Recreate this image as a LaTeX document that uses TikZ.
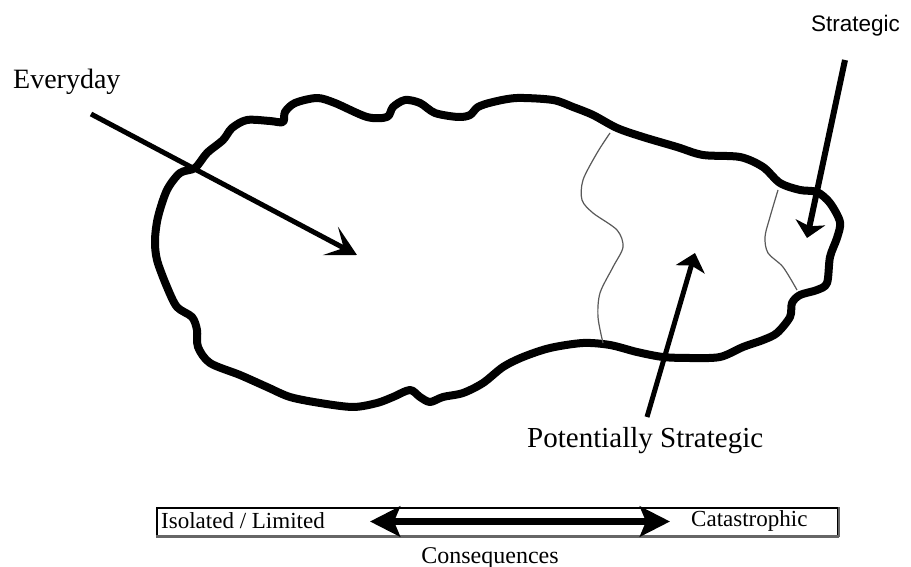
\documentclass[tikz,border=0pt]{standalone}
\usepackage{fontspec}
\setmainfont{Liberation Serif}
\newfontfamily\labelsans{Liberation Sans}
\usetikzlibrary{arrows.meta}

\begin{document}
\begin{tikzpicture}[x=1pt,y=-1pt,
  outline/.style={line width=8pt, line join=round},
  divider/.style={line width=1.2pt, draw=black!65, line join=round},
  pointer/.style={line width=5pt},
  biglabel/.style={font=\fontsize{28}{30}\selectfont, inner sep=0pt, anchor=base west},
  barlabel/.style={font=\fontsize{23}{25}\selectfont, inner sep=0pt, anchor=base west}
]
\useasboundingbox (0,0) rectangle (911,567);
\fill[white] (0,0) rectangle (911,567);

% irregular region
\draw[outline] plot[smooth cycle, tension=0.5] coordinates {
  (195,168) (207,153) (223,140) (232,128) (247,120) (270,121) (283,122)
  (285,112) (295,103) (317,98) (335,103) (367,117) (387,117) (393,107)
  (405,100) (420,103) (435,113) (458,117) (470,115) (478,107) (493,102)
  (517,98) (553,100) (573,107) (593,115) (617,128) (643,137) (677,147)
  (703,155) (740,157) (763,167) (780,183) (800,190) (817,192) (830,203)
  (840,222) (837,238) (830,257) (827,283) (817,290) (800,295) (792,303)
  (790,317) (777,333) (763,340) (743,347) (720,357) (690,358) (663,357)
  (637,352) (610,345) (583,343) (550,348) (523,357) (503,367) (483,383)
  (463,393) (443,397) (430,402) (420,397) (410,390) (393,397) (377,403)
  (353,407) (320,403) (290,397) (267,387) (240,375) (210,363) (198,347)
  (197,330) (192,317) (177,307) (167,287) (157,260) (155,240) (158,217)
  (167,190) (180,173)};

% zone boundaries
\draw[divider] plot[smooth, tension=0.5] coordinates {
  (610,133) (597,153) (583,180) (582,200) (593,213) (617,230) (623,247)
  (613,267) (600,293) (598,317) (603,343)};
\draw[divider] plot[smooth, tension=0.5] coordinates {
  (778,190) (770,217) (765,237) (768,253) (783,267) (797,290)};

% labels
\node[biglabel] (everyday) at (13,89) {Everyday};
\node[font=\labelsans\fontsize{22.5}{24}\selectfont, inner sep=0pt, anchor=base west] (strategic) at (811,32) {Strategic};
\node[biglabel, font=\fontsize{29}{31}\selectfont] (potential) at (527,447) {Potentially Strategic};

% pointers
\coordinate (evS) at (91,114);
\coordinate (evT) at (357,255);
\coordinate (stS) at (845,60);
\coordinate (stT) at (807,238);
\coordinate (ptS) at (647,417);
\coordinate (ptT) at (695,253);
\draw[pointer, -{Stealth[length=30pt,width=32pt,inset=15pt]}] (evS) -- (evT);
\draw[pointer, line width=6pt, -{Stealth[length=16pt,width=30pt,inset=4pt]}] (stS) -- (stT);
\draw[pointer, -{Stealth[length=17pt,width=30pt,inset=4pt]}] (ptS) -- (ptT);

% consequence scale
\node[draw, line width=1.4pt, minimum width=681pt, minimum height=28pt, inner sep=0pt] (scale) at (497.5,522) {};
\draw[black!60, line width=2.5pt] (scale.south west) -- (scale.south east);
\draw[black!60, line width=2pt] (scale.south east) -- (scale.north east);
\node[barlabel] (low) at (161,528) {Isolated / Limited};
\node[barlabel] (high) at (691,526) {Catastrophic};
\coordinate (sL) at (370,521.5);
\coordinate (sR) at (670,521.5);
\draw[line width=7pt, {Stealth[length=30pt,width=30pt,inset=6pt]}-{Stealth[length=30pt,width=30pt,inset=6pt]}] (sL) -- (sR);
\node[barlabel, font=\fontsize{24}{26}\selectfont, anchor=base] (conseq) at (490,563) {Consequences};
\end{tikzpicture}
\end{document}
